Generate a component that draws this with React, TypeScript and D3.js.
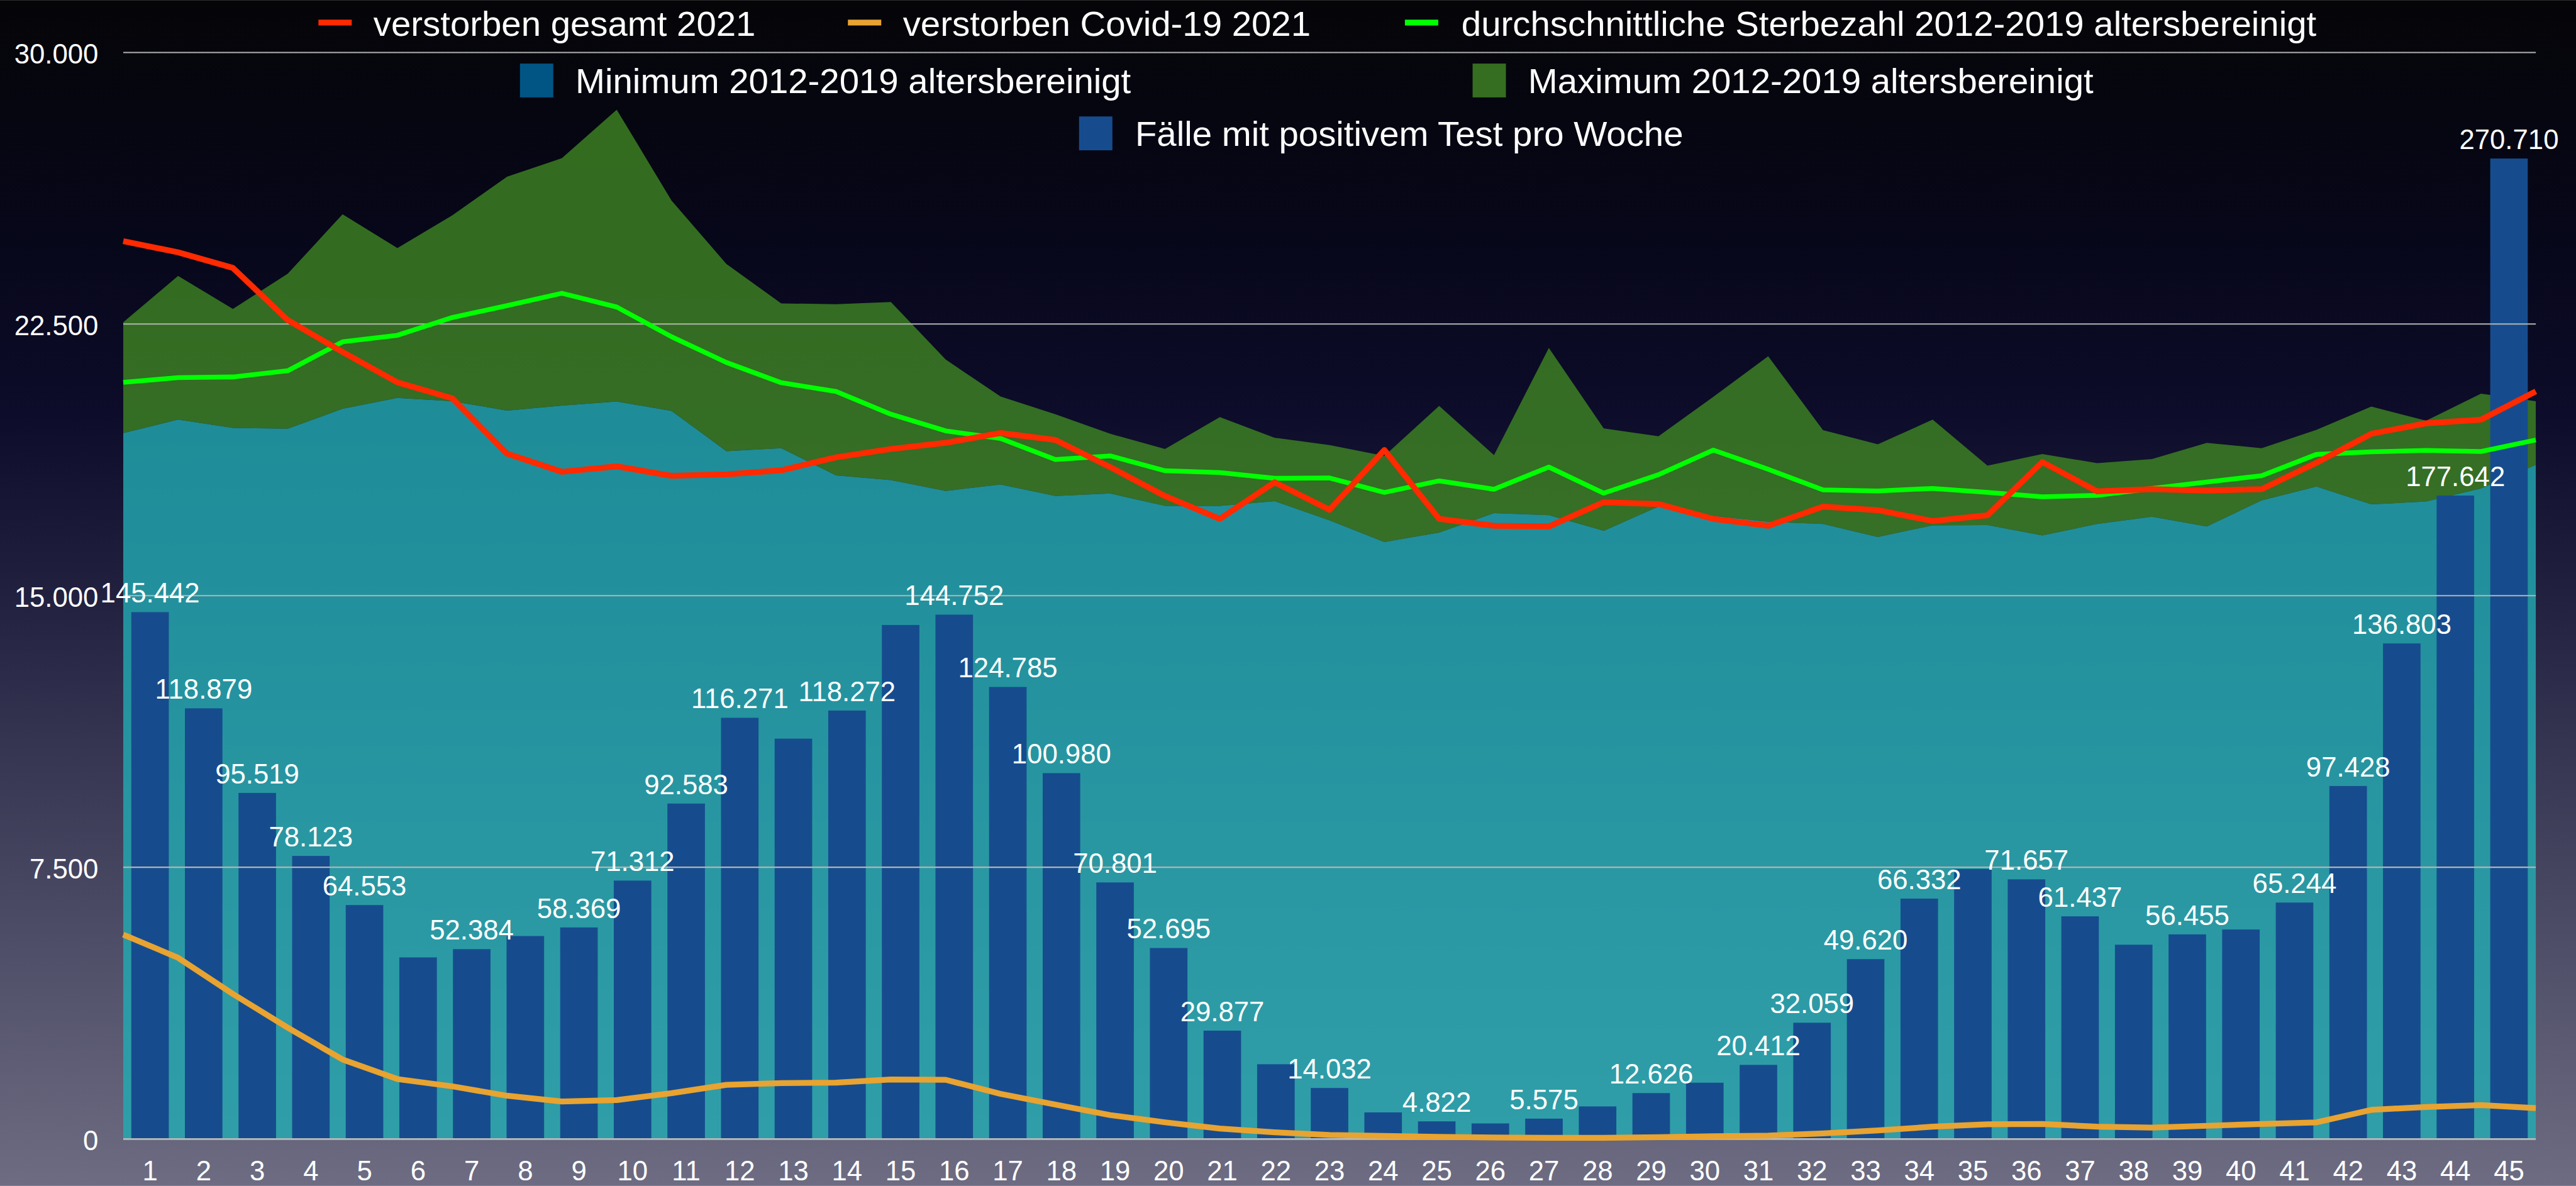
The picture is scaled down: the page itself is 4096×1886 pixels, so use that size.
import React, { useEffect } from 'react';
import * as d3 from 'd3';

// Kalenderwochen 2021
const weeks = [1, 2, 3, 4, 5, 6, 7, 8, 9, 10, 11, 12, 13, 14, 15, 16, 17, 18, 19, 20, 21, 22, 23,
  24, 25, 26, 27, 28, 29, 30, 31, 32, 33, 34, 35, 36, 37, 38, 39, 40, 41, 42, 43, 44, 45];

// Fälle mit positivem Test pro Woche (im Diagramm durch 10 geteilt)
const faelle = [145442, 118879, 95519, 78123, 64553, 50100, 52384, 56000, 58369, 71312, 92583,
  116271, 110500, 118272, 141900, 144752, 124785, 100980, 70801, 52695, 29877, 20600, 14032,
  7300, 4822, 4250, 5575, 8950, 12626, 15500, 20412, 32059, 49620, 66332, 74500, 71657, 61437,
  53600, 56455, 57800, 65244, 97428, 136803, 177642, 270710];

// Wochen, deren Balken beschriftet sind
const beschriftet = [1, 2, 3, 4, 5, 7, 9, 10, 11, 12, 14, 16, 17, 18, 19, 20, 21, 23, 25, 27, 29,
  31, 32, 33, 34, 36, 37, 39, 41, 42, 43, 44, 45];

const gesamt2021 = [24790, 24480, 24050, 22610, 21730, 20890, 20450, 18920, 18420, 18570, 18310,
  18350, 18460, 18820, 19050, 19220, 19490, 19300, 18550, 17750, 17120, 18130, 17370, 19020,
  17120, 16930, 16910, 17580, 17530, 17120, 16930, 17460, 17360, 17060, 17220, 18690, 17880,
  17940, 17900, 17940, 18670, 19470, 19760, 19860, 20640];

const covid2021 = [5640, 5000, 4000, 3070, 2190, 1650, 1450, 1190, 1030, 1070, 1260, 1490, 1540,
  1550, 1640, 1630, 1240, 945, 655, 455, 285, 180, 105, 80, 55, 35, 30, 30, 45, 70, 90, 150, 230,
  335, 400, 410, 335, 310, 360, 410, 455, 800, 880, 930, 850];

const durchschnitt = [20890, 21020, 21040, 21210, 22010, 22190, 22680, 23010, 23350, 22970, 22150,
  21440, 20880, 20640, 20010, 19550, 19340, 18760, 18860, 18450, 18400, 18240, 18250, 17850,
  18170, 17940, 18550, 17830, 18340, 19020, 18490, 17920, 17890, 17960, 17850, 17730, 17770,
  17960, 18140, 18310, 18900, 18970, 19010, 18980, 19300];

const minimum = [19490, 19860, 19630, 19610, 20160, 20460, 20370, 20110, 20250, 20360, 20100,
  18990, 19070, 18320, 18190, 17890, 18070, 17750, 17820, 17480, 17480, 17610, 17080, 16480,
  16740, 17280, 17220, 16790, 17460, 17200, 17040, 16980, 16620, 16940, 16950, 16660, 16980,
  17180, 16910, 17630, 18010, 17520, 17600, 17960, 18610];

const maximum = [22550, 23830, 22920, 23890, 25530, 24600, 25500, 26570, 27080, 28420, 25910,
  24160, 23070, 23050, 23110, 21520, 20500, 20010, 19470, 19050, 19930, 19360, 19160, 18860,
  20240, 18880, 21840, 19620, 19400, 20490, 21610, 19570, 19180, 19860, 18590, 18910, 18660,
  18770, 19220, 19070, 19580, 20220, 19830, 20580, 20370];

const yTicks = [0, 7500, 15000, 22500, 30000];

const legendLabels = [
  'verstorben gesamt 2021',
  'verstorben Covid-19 2021',
  'durchschnittliche Sterbezahl 2012-2019 altersbereinigt',
  'Minimum 2012-2019 altersbereinigt',
  'Maximum 2012-2019 altersbereinigt',
  'Fälle mit positivem Test pro Woche',
];

const W = 4870;
const H = 2242;
const plot = { left: 233, right: 4794, top: 99, bottom: 2153 };
const FONT = '"Liberation Sans", Arial, Helvetica, sans-serif';

const RED = '#ff2a00';
const ORANGE = '#e8a331';
const GREEN = '#00ff00';
const BAR = '#164c8e';

const de = d3.formatLocale({ decimal: ',', thousands: '.', grouping: [3], currency: ['', ' €'] });
const fmt = de.format(',');

export default function App() {
  useEffect(() => {
    document.body.style.margin = '0';
  }, []);

  const x = d3.scaleBand<number>().domain(weeks).range([plot.left, plot.right])
    .paddingInner(0.3).paddingOuter(0.15);
  const xp = d3.scalePoint<number>().domain(weeks).range([plot.left, plot.right]);
  const y = d3.scaleLinear().domain([0, 30000]).range([plot.bottom, plot.top]);

  const line = (vals: number[]) =>
    d3.line<number>().x((_, i) => xp(weeks[i])!).y((d) => y(d)).curve(d3.curveLinear)(vals)!;

  const minArea = d3.area<number>().x((_, i) => xp(weeks[i])!).y0(y(0)).y1((d) => y(d))(minimum)!;
  const maxArea = d3.area<number>().x((_, i) => xp(weeks[i])!)
    .y0((_, i) => y(minimum[i])).y1((d) => y(d))(maximum)!;

  // legend layout (reference pixels)
  const legend = [
    { label: legendLabels[0], color: RED, kind: 'line', sx: 602, tx: 706, row: 0 },
    { label: legendLabels[1], color: ORANGE, kind: 'line', sx: 1603, tx: 1707, row: 0 },
    { label: legendLabels[2], color: GREEN, kind: 'line', sx: 2656, tx: 2763, row: 0 },
    { label: legendLabels[3], color: '#005584', kind: 'box', sx: 983, tx: 1088, row: 1 },
    { label: legendLabels[4], color: '#356e20', kind: 'box', sx: 2784, tx: 2889, row: 1 },
    { label: legendLabels[5], color: BAR, kind: 'box', sx: 2040, tx: 2146, row: 2 },
  ];
  const rowBase = [67, 176, 276];

  return (
    <svg width={4096} height={1886} viewBox={`0 0 ${W} ${H}`} style={{ display: 'block' }}
      fontFamily={FONT}>
      <defs>
        <linearGradient id="bg" x1="0" y1="0" x2="0" y2="1">
          <stop offset="0" stopColor="#050508" />
          <stop offset="0.2" stopColor="#07071a" />
          <stop offset="0.35" stopColor="#0d0c2a" />
          <stop offset="0.5" stopColor="#21203f" />
          <stop offset="0.67" stopColor="#3c3b57" />
          <stop offset="0.85" stopColor="#57566f" />
          <stop offset="1" stopColor="#6d6c82" />
        </linearGradient>
      </defs>
      <rect x={0} y={0} width={W} height={H} fill="url(#bg)" />

      {/* areas */}
      <path d={maxArea} fill="rgb(62,132,35)" fillOpacity={0.81} />
      <path d={minArea} fill="rgb(35,171,179)" fillOpacity={0.81} />

      {/* bars */}
      {weeks.map((w, i) => (
        <rect key={w} x={x(w)} y={y(faelle[i] / 10)} width={x.bandwidth()}
          height={y(0) - y(faelle[i] / 10)} fill={BAR} />
      ))}

      {/* grid */}
      {yTicks.filter((t) => t > 0).map((t) => (
        <line key={t} x1={plot.left} x2={plot.right} y1={y(t)} y2={y(t)}
          stroke="#b4b4b4" strokeWidth={2.5} />
      ))}
      <line x1={plot.left} x2={plot.right} y1={y(0) + 0.5} y2={y(0) + 0.5}
        stroke="#b8bcbc" strokeWidth={3.5} />

      {/* lines */}
      <path d={line(covid2021)} fill="none" stroke={ORANGE} strokeWidth={11} strokeLinejoin="round" />
      <path d={line(durchschnitt)} fill="none" stroke={GREEN} strokeWidth={9} strokeLinejoin="round" />
      <path d={line(gesamt2021)} fill="none" stroke={RED} strokeWidth={11} strokeLinejoin="round" />

      {/* y tick labels */}
      {yTicks.map((t) => (
        <text key={t} x={186} y={y(t) + 21} textAnchor="end" fontSize={52} fill="#fff">
          {fmt(t)}
        </text>
      ))}

      {/* x tick labels */}
      {weeks.map((w) => (
        <text key={w} x={x(w)! + x.bandwidth() / 2} y={2232} textAnchor="middle"
          fontSize={52} fill="#fff">{w}</text>
      ))}

      {/* bar value labels */}
      {weeks.map((w, i) => beschriftet.includes(w) ? (
        <text key={w} x={x(w)! + x.bandwidth() / 2} y={y(faelle[i] / 10) - 18}
          textAnchor="middle" fontSize={52} fill="#fff">{fmt(faelle[i])}</text>
      ) : null)}

      {/* legend */}
      {legend.map((l) => (
        <g key={l.label}>
          {l.kind === 'line'
            ? <rect x={l.sx} y={37} width={63} height={11} fill={l.color} />
            : <rect x={l.sx} y={rowBase[l.row] - 56} width={63} height={64} fill={l.color} />}
          <text x={l.tx} y={rowBase[l.row]} fontSize={67} fill="#fff">{l.label}</text>
        </g>
      ))}
    </svg>
  );
}
